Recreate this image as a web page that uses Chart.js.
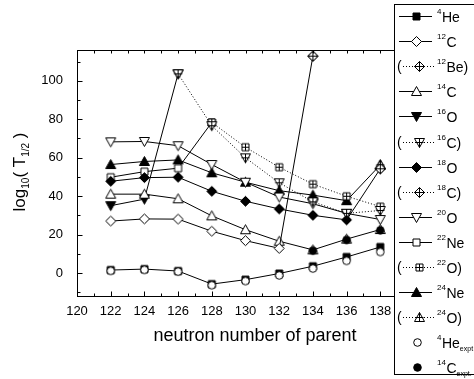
<!DOCTYPE html>
<html>
<head>
<meta charset="utf-8">
<script src="https://cdn.jsdelivr.net/npm/chart.js@4.4.1/dist/chart.umd.min.js"></script>
<style>
  html, body { margin: 0; padding: 0; background: #fff; }
  #wrap { width: 474px; height: 379px; }
</style>
</head>
<body>
<div id="wrap"><canvas id="chart" width="474" height="379"></canvas></div>
<script>
// neutron number of the parent nucleus (x axis)
const neutronNumbers = [122, 124, 126, 128, 130, 132, 134, 136, 138];
const xTickValues = [120, 122, 124, 126, 128, 130, 132, 134, 136, 138];
const yTickValues = [0, 20, 40, 60, 80, 100];

// log10(T1/2) per emitted cluster
const he4Calc  = [1.5, 2.0, 1.0, -5.8, -3.5, -0.3, 3.5, 8.3, 13.5];
const c12Calc  = [27.0, 28.1, 28.0, 21.7, 16.8, 12.8, 112.8, null, null];
const be12Calc = [null, null, null, null, null, null, 112.8, null, null];
const c14Calc  = [41.0, 41.0, 38.6, 29.7, 22.5, 16.5, 12.0, 17.6, 22.6];
const o16Calc  = [35.0, 38.4, 103.6, null, null, null, null, null, null];
const c16Calc  = [null, null, 103.6, 76.6, 59.9, 46.9, 37.0, 31.0, 32.5];
const o18Calc  = [47.7, 49.6, 49.8, 42.5, 37.3, 33.3, 30.0, 27.6, 54.2];
const c18Calc  = [null, null, null, null, null, null, null, null, 54.2];
const o20Calc  = [68.2, 68.4, 66.2, 56.4, 47.2, 39.5, 36.0, 31.0, 27.8];
const ne22Calc = [49.8, 52.7, 54.5, 78.3, null, null, null, null, null];
const o22Calc  = [null, null, null, 78.3, 65.4, 55.0, 46.2, 39.9, 34.5];
const ne24Calc = [56.4, 58.0, 58.8, 52.1, 47.2, 42.8, 40.5, 37.6, 56.2];
const o24Calc  = [null, null, null, null, null, null, null, null, 56.2];
const he4Expt  = [1.1, 1.6, 0.7, -6.4, -4.2, -1.3, 2.3, 6.3, 10.9];
const c14Expt  = [null, null, null, null, null, null, 11.6, 17.2, 22.2];

// kleine canvas-symbolen voor de punten (ook gebruikt in de legenda)
function marker(shape, filled, cross) {
    const c = document.createElement('canvas');
    c.width = 13; c.height = 13;
    const g = c.getContext('2d');
    g.translate(6.5, 6.5);
    g.lineWidth = 1;
    g.strokeStyle = '#000';
    g.fillStyle = filled ? '#000' : '#fff';
    g.beginPath();
    if (shape === 'square') g.rect(-3.5, -3.5, 7, 7);
    if (shape === 'diamond') { g.moveTo(0, -5); g.lineTo(5, 0); g.lineTo(0, 5); g.lineTo(-5, 0); g.closePath(); }
    if (shape === 'up') { g.moveTo(0, -5); g.lineTo(5, 4); g.lineTo(-5, 4); g.closePath(); }
    if (shape === 'down') { g.moveTo(0, 5); g.lineTo(5, -4); g.lineTo(-5, -4); g.closePath(); }
    if (shape === 'circle') g.arc(0, 0, 3.8, 0, Math.PI * 2);
    g.fill();
    g.stroke();
    if (cross) {
        g.beginPath();
        if (shape === 'square') { g.moveTo(0, -3.5); g.lineTo(0, 3.5); g.moveTo(-3.5, 0); g.lineTo(3.5, 0); }
        else if (shape === 'diamond') { g.moveTo(0, -5); g.lineTo(0, 5); g.moveTo(-5, 0); g.lineTo(5, 0); }
        else if (shape === 'up') { g.moveTo(0, -5); g.lineTo(0, 4); g.moveTo(-4, 0); g.lineTo(4, 0); }
        else { g.moveTo(0, 5); g.lineTo(0, -4); g.moveTo(-4, 0); g.lineTo(4, 0); }
        g.stroke();
    }
    return c;
}

function pts(values) {
    return neutronNumbers.map((n, i) => ({ x: n, y: values[i] }));
}

// kind: 'solid' | 'dotted' | 'expt'  -- volgorde = volgorde in de legenda
const series = [
    { sup: '4',  el: 'He', kind: 'solid',  values: he4Calc,  sym: marker('square', true) },
    { sup: '12', el: 'C',  kind: 'solid',  values: c12Calc,  sym: marker('diamond', false) },
    { sup: '12', el: 'Be', kind: 'dotted', values: be12Calc, sym: marker('diamond', false, true) },
    { sup: '14', el: 'C',  kind: 'solid',  values: c14Calc,  sym: marker('up', false) },
    { sup: '16', el: 'O',  kind: 'solid',  values: o16Calc,  sym: marker('down', true) },
    { sup: '16', el: 'C',  kind: 'dotted', values: c16Calc,  sym: marker('down', false, true) },
    { sup: '18', el: 'O',  kind: 'solid',  values: o18Calc,  sym: marker('diamond', true) },
    { sup: '18', el: 'C',  kind: 'dotted', values: c18Calc,  sym: marker('diamond', false, true) },
    { sup: '20', el: 'O',  kind: 'solid',  values: o20Calc,  sym: marker('down', false) },
    { sup: '22', el: 'Ne', kind: 'solid',  values: ne22Calc, sym: marker('square', false) },
    { sup: '22', el: 'O',  kind: 'dotted', values: o22Calc,  sym: marker('square', false, true) },
    { sup: '24', el: 'Ne', kind: 'solid',  values: ne24Calc, sym: marker('up', true) },
    { sup: '24', el: 'O',  kind: 'dotted', values: o24Calc,  sym: marker('up', false, true) },
    { sup: '4',  el: 'He', sub: 'expt', kind: 'expt', values: he4Expt, sym: marker('circle', false) },
    { sup: '14', el: 'C',  sub: 'expt.', kind: 'expt', values: c14Expt, sym: marker('circle', true) },
];

const datasets = series.map(s => ({
    label: s.sup + s.el + (s.sub ? ' ' + s.sub : ''),
    data: pts(s.values),
    borderColor: '#000',
    borderWidth: 1,
    borderDash: s.kind === 'dotted' ? [1, 2] : [],
    showLine: s.kind !== 'expt',
    pointStyle: s.sym,
    pointRadius: 5,
    tension: 0,
    spanGaps: false,
    order: s.kind === 'expt' ? -1 : (s.kind === 'dotted' ? 0 : 1),
}));

const FONT = '"Liberation Sans", Arial, Helvetica, sans-serif';

const decor = {
    id: 'decor',
    beforeDraw(chart) {
        const ctx = chart.ctx;
        ctx.save();
        ctx.fillStyle = '#fff';
        ctx.fillRect(0, 0, chart.width, chart.height);
        ctx.restore();
    },
    afterDraw(chart) {
        const ctx = chart.ctx;
        const a = chart.chartArea;
        const xs = chart.scales.x, ys = chart.scales.y;
        ctx.save();
        ctx.strokeStyle = '#000';
        ctx.lineWidth = 1;

        // kader
        const L = Math.round(a.left) + 0.5, R = Math.round(a.right) + 0.5;
        const T = Math.round(a.top) + 0.5, B = Math.round(a.bottom) + 0.5;
        ctx.strokeRect(L, T, R - L, B - T);

        // tickmarks naar binnen
        ctx.beginPath();
        for (let v = 120; v <= 140; v++) {
            const px = Math.round(xs.getPixelForValue(v)) + 0.5;
            const len = v % 2 === 0 ? 5 : 3;
            ctx.moveTo(px, B); ctx.lineTo(px, B - len);
            ctx.moveTo(px, T); ctx.lineTo(px, T + 3);
        }
        for (let v = -10; v <= 110; v += 10) {
            const py = Math.round(ys.getPixelForValue(v)) + 0.5;
            const len = v % 20 === 0 ? 5 : 3;
            ctx.moveTo(L, py); ctx.lineTo(L + len, py);
            ctx.moveTo(R, py); ctx.lineTo(R - len, py);
        }
        ctx.stroke();

        // astitels
        ctx.fillStyle = '#000';
        ctx.textBaseline = 'alphabetic';
        ctx.textAlign = 'center';
        ctx.font = '18px ' + FONT;
        ctx.fillText('neutron number of parent', 255, 341);

        ctx.save();
        ctx.translate(25, 172);
        ctx.rotate(-Math.PI / 2);
        const parts = [
            ['log', 17, 0], ['10', 10, 4], ['( T', 17, 0], ['1/2', 10, 4], [' )', 17, 0],
        ];
        let total = 0;
        parts.forEach(p => { ctx.font = p[1] + 'px ' + FONT; total += ctx.measureText(p[0]).width; });
        let cx = -total / 2;
        ctx.textAlign = 'left';
        parts.forEach(p => {
            ctx.font = p[1] + 'px ' + FONT;
            ctx.fillText(p[0], cx, p[2]);
            cx += ctx.measureText(p[0]).width;
        });
        ctx.restore();

        // legenda-kader
        ctx.fillStyle = '#fff';
        ctx.fillRect(394, 4, 90, 370);
        ctx.strokeRect(394.5, 4.5, 100, 370);

        ctx.fillStyle = '#000';
        ctx.textAlign = 'left';
        series.forEach((s, i) => {
            const y = Math.round(16 + i * 25.1);
            let mx = 416, tx = 437;
            ctx.beginPath();
            if (s.kind === 'solid') {
                ctx.setLineDash([]);
                ctx.moveTo(399, y + 0.5); ctx.lineTo(432, y + 0.5);
                ctx.stroke();
            } else if (s.kind === 'dotted') {
                ctx.font = '14px ' + FONT;
                ctx.fillText('(', 397, y + 5);
                ctx.setLineDash([1, 2]);
                ctx.moveTo(403, y + 0.5); ctx.lineTo(435, y + 0.5);
                ctx.stroke();
                ctx.setLineDash([]);
                mx = 419; tx = 437;
            } else {
                mx = 417; tx = 437;
            }
            ctx.drawImage(s.sym, mx - 6, y - 6);
            ctx.font = '8px ' + FONT;
            ctx.fillText(s.sup, tx, y - 2);
            tx += ctx.measureText(s.sup).width + 0.5;
            ctx.font = '14px ' + FONT;
            ctx.fillText(s.el, tx, y + 6);
            tx += ctx.measureText(s.el).width;
            if (s.sub) {
                ctx.font = '7px ' + FONT;
                ctx.fillText(s.sub, tx, y + 9);
            }
            if (s.kind === 'dotted') {
                ctx.font = '14px ' + FONT;
                ctx.fillText(')', tx, y + 6);
            }
        });
        ctx.restore();
    }
};

new Chart(document.getElementById('chart'), {
    type: 'line',
    data: { datasets },
    plugins: [decor],
    options: {
        responsive: false,
        devicePixelRatio: 1,
        animation: false,
        layout: { padding: { top: 50, right: 60, left: 0, bottom: 0 } },
        plugins: { legend: { display: false }, tooltip: { enabled: false } },
        scales: {
            x: {
                type: 'linear',
                min: 120,
                max: 140,
                afterFit: s => { s.height = 83; },
                afterBuildTicks: s => { s.ticks = xTickValues.map(v => ({ value: v })); },
                grid: { display: false },
                border: { display: false },
                ticks: { padding: 0, maxRotation: 0, autoSkip: false, color: '#000', font: { size: 13, family: FONT } },
            },
            y: {
                min: -12,
                max: 116,
                afterFit: s => { s.width = 77; },
                afterBuildTicks: s => { s.ticks = yTickValues.map(v => ({ value: v })); },
                grid: { display: false },
                border: { display: false },
                ticks: { padding: 6, color: '#000', font: { size: 13, family: FONT } },
            },
        },
    },
});
</script>
</body>
</html>
